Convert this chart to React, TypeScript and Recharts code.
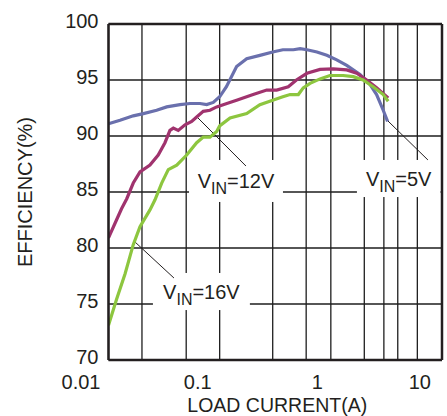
import React from 'react';
import {
  CartesianGrid,
  Line,
  LineChart,
  ReferenceArea,
  ReferenceLine,
  XAxis,
  YAxis,
} from 'recharts';

// load current (A) / efficiency (%)
const vin5Current = [
  0.01, 0.0127, 0.0167, 0.0206, 0.0271, 0.0334, 0.044, 0.054, 0.0665, 0.0764,
  0.0876, 0.1, 0.115, 0.142, 0.175, 0.23, 0.3, 0.37, 0.46, 0.53, 0.61, 0.75,
  0.92, 1.13, 1.39, 1.83, 2.25, 2.58, 2.96, 3.24,
];
const vin5Eff = [
  91.1, 91.4, 91.8, 92.0, 92.3, 92.6, 92.8, 92.9, 92.9, 92.8, 93.0, 93.5, 94.4,
  96.2, 96.9, 97.2, 97.5, 97.7, 97.7, 97.8, 97.7, 97.5, 97.2, 96.8, 96.3, 95.5,
  94.6, 93.7, 92.3, 91.3,
];

const vin12Current = [
  0.01, 0.0118, 0.0131, 0.0146, 0.0167, 0.0192, 0.0236, 0.028, 0.0322, 0.0357,
  0.0383, 0.0424, 0.0488, 0.056, 0.0621, 0.0712, 0.0818, 0.094, 0.116, 0.142,
  0.2, 0.265, 0.326, 0.414, 0.49, 0.61, 0.8, 1.05, 1.39, 1.71, 2.1, 2.58, 3.28,
];
const vin12Eff = [
  80.9, 82.5, 83.5, 84.4, 85.8, 86.8, 87.4, 88.3, 89.4, 90.5, 90.7, 90.5, 91.0,
  91.3, 91.7, 92.2, 92.3, 92.6, 92.9, 93.2, 93.7, 94.1, 94.1, 94.4, 95.0, 95.6,
  95.95, 96.0, 95.9, 95.6, 95.0, 94.3, 93.4,
];

const vin16Current = [
  0.01, 0.0118, 0.0141, 0.0167, 0.0192, 0.0236, 0.0262, 0.0301, 0.0345, 0.0411,
  0.0505, 0.0621, 0.0712, 0.0818, 0.094, 0.1, 0.124, 0.175, 0.23, 0.3, 0.37,
  0.43, 0.51, 0.565, 0.65, 0.8, 0.98, 1.29, 1.59, 1.95, 2.4, 2.96, 3.28,
];
const vin16Eff = [
  73.1, 75.4, 77.7, 80.3, 81.9, 83.4, 84.3, 85.8, 87.0, 87.4, 88.3, 89.4, 89.9,
  89.9, 90.4, 90.9, 91.6, 92.0, 92.8, 93.2, 93.5, 93.7, 93.7, 94.3, 94.7, 95.1,
  95.4, 95.4, 95.3, 95.0, 94.4, 93.7, 93.1,
];

const xTicks = [
  0.01, 0.02, 0.03, 0.04, 0.05, 0.06, 0.07, 0.08, 0.09,
  0.1, 0.2, 0.3, 0.4, 0.5, 0.6, 0.7, 0.8, 0.9,
  1, 2, 3, 4, 5, 6, 7, 8, 9, 10,
];
const yTicks = [70, 75, 80, 85, 90, 95, 100];

const toPoints = (xs: number[], ys: number[]) =>
  xs.map((current, i) => ({ current, eff: ys[i] }));

const INK = '#231f20';
const FONT = '"Liberation Sans", Arial, sans-serif';

const isDecade = (v: number) => {
  const l = Math.log10(v);
  return Math.abs(l - Math.round(l)) < 1e-9;
};

const XTick = (props: any) => {
  const { x, y, payload } = props;
  if (!isDecade(payload.value)) return null;
  return (
    <text x={x - 8} y={y + 29} textAnchor="end" fontSize={20} fill={INK} fontFamily={FONT}>
      {String(payload.value)}
    </text>
  );
};

const YTick = (props: any) => {
  const { x, y, payload } = props;
  return (
    <text x={x} y={y + 4} textAnchor="end" fontSize={20} fill={INK} fontFamily={FONT}>
      {payload.value}
    </text>
  );
};

// white box with "V_IN=..." text
const vinBox = (suffix: string) => (p: any) => {
  const { x, y, width, height } = p;
  return (
    <g>
      <rect x={x} y={y} width={width} height={height} fill="#fff" />
      <text
        x={x + width / 2}
        y={y + height / 2 + 7}
        textAnchor="middle"
        fontSize={20}
        fill={INK}
        fontFamily={FONT}
      >
        V
        <tspan fontSize={16} dy={6}>
          IN
        </tspan>
        <tspan dy={-6}>{suffix}</tspan>
      </text>
    </g>
  );
};

export default function App() {
  return (
    <div style={{ position: 'absolute', left: 0, top: 0, background: '#fff' }}>
      <LineChart
        width={447}
        height={416}
        margin={{ top: 24, right: 5, bottom: 0, left: 18.5 }}
      >
        <CartesianGrid stroke="#1e1e1e" strokeWidth={1.3} />
        <XAxis
          dataKey="current"
          type="number"
          scale="log"
          domain={[0.01, 10]}
          ticks={xTicks}
          allowDataOverflow
          height={56}
          tickSize={0}
          tickMargin={0}
          tick={<XTick />}
          axisLine={{ stroke: INK, strokeWidth: 2.5 }}
          label={{
            value: 'LOAD CURRENT(A)',
            position: 'insideBottom',
            offset: 4,
            dx: 2,
            fontSize: 19.5,
            fill: INK,
            fontFamily: FONT,
          }}
        />
        <YAxis
          type="number"
          domain={[70, 100]}
          ticks={yTicks}
          width={90}
          tickSize={0}
          tickMargin={10}
          tick={<YTick />}
          axisLine={{ stroke: INK, strokeWidth: 2.5 }}
          label={{
            value: 'EFFICIENCY(%)',
            angle: -90,
            position: 'insideLeft',
            offset: 6.5,
            fontSize: 20,
            fill: INK,
            fontFamily: FONT,
            style: { textAnchor: 'middle' },
          }}
        />
        <ReferenceLine y={100} stroke={INK} strokeWidth={2.5} />
        <ReferenceLine x={10} stroke={INK} strokeWidth={2.5} />

        <ReferenceArea x1={0.053} x2={0.371} y1={84.11} y2={87.86} shape={vinBox('=12V')} />
        <ReferenceArea x1={0.0251} x2={0.187} y1={74.46} y2={77.77} shape={vinBox('=16V')} />
        <ReferenceArea x1={1.717} x2={9.7} y1={84.55} y2={87.86} shape={vinBox('=5V')} />

        <ReferenceLine
          segment={[{ x: 0.0638, y: 91.61 }, { x: 0.1724, y: 87.32 }]}
          stroke={INK}
          strokeWidth={1}
        />
        <ReferenceLine
          segment={[{ x: 0.0173, y: 80.54 }, { x: 0.0388, y: 77.32 }]}
          stroke={INK}
          strokeWidth={1}
        />
        <ReferenceLine
          segment={[{ x: 3.196, y: 91.43 }, { x: 7.47, y: 87.86 }]}
          stroke={INK}
          strokeWidth={1}
        />

        <Line
          data={toPoints(vin5Current, vin5Eff)}
          dataKey="eff"
          stroke="#6a70ad"
          strokeWidth={3.2}
          dot={false}
          isAnimationActive={false}
        />
        <Line
          data={toPoints(vin12Current, vin12Eff)}
          dataKey="eff"
          stroke="#a0336e"
          strokeWidth={3.2}
          dot={false}
          isAnimationActive={false}
        />
        <Line
          data={toPoints(vin16Current, vin16Eff)}
          dataKey="eff"
          stroke="#8dc63f"
          strokeWidth={3.2}
          dot={false}
          isAnimationActive={false}
        />
      </LineChart>
    </div>
  );
}
